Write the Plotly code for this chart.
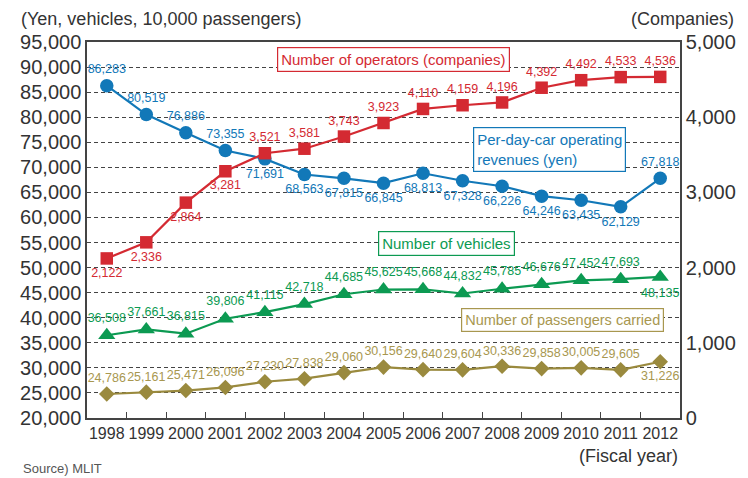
import plotly.graph_objects as go

years = ["1998","1999","2000","2001","2002","2003","2004","2005","2006","2007","2008","2009","2010","2011","2012"]
revenue = [86283, 80519, 76886, 73355, 71691, 68563, 67815, 66845, 68813, 67328, 66226, 64246, 63435, 62129, 67818]
operators = [2122, 2336, 2864, 3281, 3521, 3581, 3743, 3923, 4110, 4159, 4196, 4392, 4492, 4533, 4536]
vehicles = [36508, 37661, 36815, 39806, 41115, 42718, 44685, 45625, 45668, 44832, 45785, 46676, 47452, 47693, 48135]
passengers = [24786, 25161, 25471, 26096, 27230, 27838, 29060, 30156, 29640, 29604, 30336, 29858, 30005, 29605, 31226]

left_ticks = list(range(20000, 95001, 5000))
right_ticks = list(range(0, 5001, 1000))

BLUE = "#1278b8"
RED = "#d42a32"
GREEN = "#0c9a52"
OLIVE = "#9a8a3e"
OLIVE_TXT = "#a8974f"

FONT = "Liberation Sans, Arial, sans-serif"

def fmt(v):
    return f"{v:,}"

rev_pos = ["top center"]*4 + ["bottom center"]*10 + ["top center"]
op_pos = ["bottom center"]*4 + ["top center"]*11
veh_pos = ["top center"]*14 + ["bottom center"]
pas_pos = ["top center"]*14 + ["bottom center"]

LBL = 12.5

fig = go.Figure()

fig.add_trace(go.Scatter(x=years, y=passengers, mode="lines+markers+text",
    line=dict(color=OLIVE, width=2.2),
    marker=dict(symbol="diamond", size=12, color=OLIVE),
    text=[fmt(v) for v in passengers], textposition=pas_pos,
    textfont=dict(color=OLIVE_TXT, size=LBL, family=FONT), cliponaxis=False, showlegend=False))

fig.add_trace(go.Scatter(x=years, y=vehicles, mode="lines+markers+text",
    line=dict(color=GREEN, width=2.2),
    marker=dict(symbol="triangle-up", size=15, color=GREEN),
    text=[fmt(v) for v in vehicles], textposition=veh_pos,
    textfont=dict(color=GREEN, size=LBL, family=FONT), cliponaxis=False, showlegend=False))

fig.add_trace(go.Scatter(x=years, y=revenue, mode="lines+markers+text",
    line=dict(color=BLUE, width=2.2),
    marker=dict(symbol="circle", size=13.5, color=BLUE),
    text=[fmt(v) for v in revenue], textposition=rev_pos,
    textfont=dict(color=BLUE, size=LBL, family=FONT), cliponaxis=False, showlegend=False))

fig.add_trace(go.Scatter(x=years, y=operators, mode="lines+markers+text", yaxis="y2",
    line=dict(color=RED, width=2.2),
    marker=dict(symbol="square", size=12.5, color=RED),
    text=[fmt(v) for v in operators], textposition=op_pos,
    textfont=dict(color=RED, size=LBL, family=FONT), cliponaxis=False, showlegend=False))

fig.update_layout(
    width=740, height=470,
    margin=dict(l=71, r=64, t=34, b=60),
    paper_bgcolor="white", plot_bgcolor="white",
    font=dict(family=FONT, color="#333333"),
    xaxis=dict(type="category", categoryorder="array", categoryarray=years,
        range=[-0.5, 14.5], showline=True, linecolor="#444444", linewidth=1.5,
        mirror=True, ticks="inside", ticklen=6, tickcolor="#444444", tickson="boundaries",
        tickangle=0, tickfont=dict(family=FONT, size=16, color="#333333"),
        showgrid=False, zeroline=False),
    yaxis=dict(range=[20000, 95000], tickvals=left_ticks, ticktext=[fmt(v) for v in left_ticks],
        showline=True, linecolor="#444444", linewidth=1.5,
        showgrid=True, gridcolor="#444444", griddash="4px,3px", gridwidth=1,
        tickfont=dict(family=FONT, size=20, color="#333333"), ticks="", zeroline=False),
    yaxis2=dict(range=[0, 5000], tickvals=right_ticks, ticktext=[fmt(v) for v in right_ticks],
        overlaying="y", side="right", showgrid=False, showline=True, linecolor="#444444", linewidth=1.5,
        tickfont=dict(family=FONT, size=20, color="#333333"), ticks="", zeroline=False),
    annotations=[
        dict(text="(Yen, vehicles, 10,000 passengers)", xref="paper", yref="paper", x=-0.114, y=1.0,
             xanchor="left", yanchor="bottom", yshift=11, showarrow=False,
             font=dict(family=FONT, size=18, color="#333333")),
        dict(text="(Companies)", xref="paper", yref="paper", x=1.094, y=1.0,
             xanchor="right", yanchor="bottom", yshift=11, showarrow=False,
             font=dict(family=FONT, size=18, color="#333333")),
        dict(text="(Fiscal year)", xref="paper", yref="paper", x=1.0, y=0,
             xanchor="right", yanchor="top", yshift=-26, showarrow=False,
             font=dict(family=FONT, size=18, color="#333333")),
        dict(text="Source) MLIT", xref="paper", yref="paper", x=-0.112, y=0,
             xanchor="left", yanchor="top", yshift=-41, showarrow=False,
             font=dict(family=FONT, size=13, color="#555555")),
        dict(text="Number of operators (companies)", xref="x", yref="y", x=7.26, y=91600,
             showarrow=False, bordercolor=RED, borderwidth=1.2, borderpad=3, bgcolor="white",
             font=dict(family=FONT, size=15, color=RED)),
        dict(text="Per-day-car operating<br>revenues (yen)", xref="x", yref="y", x=11.2, y=73600,
             showarrow=False, bordercolor=BLUE, borderwidth=1.2, borderpad=3, bgcolor="white",
             align="left", font=dict(family=FONT, size=15, color=BLUE)),
        dict(text="Number of vehicles", xref="x", yref="y", x=8.6, y=54800,
             showarrow=False, bordercolor=GREEN, borderwidth=1.2, borderpad=3, bgcolor="white",
             font=dict(family=FONT, size=15, color=GREEN)),
        dict(text="Number of passengers carried", xref="x", yref="y", x=11.53, y=39600,
             showarrow=False, bordercolor=OLIVE_TXT, borderwidth=1.2, borderpad=3, bgcolor="white",
             font=dict(family=FONT, size=14.5, color=OLIVE_TXT)),
    ],
)

fig.write_html("out.html")
